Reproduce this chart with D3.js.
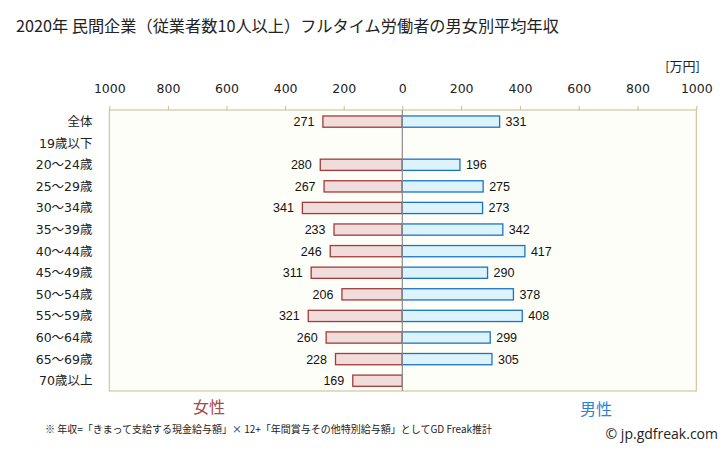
<!DOCTYPE html>
<html><head><meta charset="utf-8">
<script src="https://cdn.jsdelivr.net/npm/d3@7"></script>
<style>
body{margin:0;background:#fff;}
svg{display:block;}
</style></head>
<body>
<svg id="chart" width="728" height="451"></svg>
<script>
const categories = ["全体","19歳以下","20～24歳","25～29歳","30～34歳","35～39歳","40～44歳","45～49歳","50～54歳","55～59歳","60～64歳","65～69歳","70歳以上"];
const female = [271,null,280,267,341,233,246,311,206,321,260,228,169];
const male   = [331,null,196,275,273,342,417,290,378,408,299,305,null];
const leftTicks = [1000,800,600,400,200];
const rightTicks = [0,200,400,600,800,1000];
const title = "2020年 民間企業（従業者数10人以上）フルタイム労働者の男女別平均年収";
const unit = "[万円]";
const note = "※ 年収=「きまって支給する現金給与額」× 12+「年間賞与その他特別給与額」としてGD Freak推計";
const credit = "© jp.gdfreak.com";

const svg = d3.select("#chart");
const numFont = "'DejaVu Sans','Noto Sans CJK JP',sans-serif";
const jpFont = "'Noto Sans CJK JP',sans-serif";

const x0 = 402.3, plotL = 109.3, plotR = 696.3, plotT = 110, plotB = 391;
const xL = d3.scaleLinear().domain([0,1000]).range([x0, plotL]);
const xR = d3.scaleLinear().domain([0,1000]).range([x0, plotR]);
const y = d3.scaleBand().domain(categories).range([110.8, 391.5]).paddingInner(0.48).paddingOuter(0.24);

// title
svg.append("text").attr("x",16).attr("y",32).attr("font-family",jpFont).attr("font-size",16.2).attr("fill","#222").text(title);

// plot background
svg.append("rect").attr("x",plotL).attr("y",plotT).attr("width",plotR-plotL).attr("height",plotB-plotT)
  .attr("fill","#fefef8").attr("stroke","#c8bb8c").attr("stroke-width",1);

// axes
function styleAxis(g){
  g.select(".domain").remove();
  g.selectAll(".tick line").attr("stroke","#c8bb8c");
  g.selectAll(".tick text").attr("font-family",numFont).attr("font-size",12.5).attr("fill","#222");
}
const fmt = d3.format("d");
svg.append("g").attr("transform",`translate(0,${plotT})`)
  .call(d3.axisTop(xL).tickValues(leftTicks).tickFormat(fmt).tickSize(4).tickPadding(13)).call(styleAxis);
svg.append("g").attr("transform",`translate(0,${plotT})`)
  .call(d3.axisTop(xR).tickValues(rightTicks).tickFormat(fmt).tickSize(4).tickPadding(13)).call(styleAxis);

svg.append("text").attr("x",700).attr("y",71).attr("text-anchor","end")
  .attr("font-family",jpFont).attr("font-size",13).attr("fill","#222").text(unit);

// category labels
svg.append("g").selectAll("text").data(categories).join("text")
  .attr("x",92.5).attr("y",d=>y(d)+y.bandwidth()/2).attr("dy","0.36em")
  .attr("text-anchor","end").attr("font-family",numFont).attr("font-size",12.5).attr("fill","#222")
  .text(d=>d);

const fData = categories.map((c,i)=>({c,v:female[i]})).filter(d=>d.v!=null);
const mData = categories.map((c,i)=>({c,v:male[i]})).filter(d=>d.v!=null);

// bars
svg.append("g").selectAll("rect").data(fData).join("rect")
  .attr("x",d=>xL(d.v)).attr("y",d=>y(d.c)).attr("width",d=>x0-xL(d.v)).attr("height",y.bandwidth())
  .attr("fill","#f1dcdc").attr("stroke","#a33a3a").attr("stroke-width",1.3);
svg.append("g").selectAll("rect").data(mData).join("rect")
  .attr("x",x0).attr("y",d=>y(d.c)).attr("width",d=>xR(d.v)-x0).attr("height",y.bandwidth())
  .attr("fill","#dcf3fc").attr("stroke","#1a74c6").attr("stroke-width",1.3);

// center line
svg.append("line").attr("x1",x0).attr("x2",x0).attr("y1",plotT).attr("y2",plotB)
  .attr("stroke","#8a8a8a").attr("stroke-width",1.2);

// value labels
svg.append("g").selectAll("text").data(fData).join("text")
  .attr("x",d=>xL(d.v)-8.5).attr("y",d=>y(d.c)+y.bandwidth()/2).attr("dy","0.36em")
  .attr("text-anchor","end").attr("font-family","'Liberation Sans',sans-serif").attr("font-size",12.5).attr("fill","#111")
  .text(d=>d.v);
svg.append("g").selectAll("text").data(mData).join("text")
  .attr("x",d=>xR(d.v)+6).attr("y",d=>y(d.c)+y.bandwidth()/2).attr("dy","0.36em")
  .attr("text-anchor","start").attr("font-family","'Liberation Sans',sans-serif").attr("font-size",12.5).attr("fill","#111")
  .text(d=>d.v);

// legend
svg.append("text").attr("x",209).attr("y",413).attr("text-anchor","middle")
  .attr("font-family",jpFont).attr("font-size",16).attr("fill","#a84848").text("女性");
svg.append("text").attr("x",596).attr("y",415).attr("text-anchor","middle")
  .attr("font-family",jpFont).attr("font-size",16).attr("fill","#2a86d2").text("男性");

// footnote
svg.append("text").attr("x",45).attr("y",433)
  .attr("font-family",jpFont).attr("font-size",10).attr("fill","#222").text(note);
svg.append("text").attr("x",718).attr("y",439).attr("text-anchor","end")
  .attr("font-family","'Open Sans',sans-serif").attr("font-size",14).attr("fill","#222").text(credit);
</script>
</body></html>
